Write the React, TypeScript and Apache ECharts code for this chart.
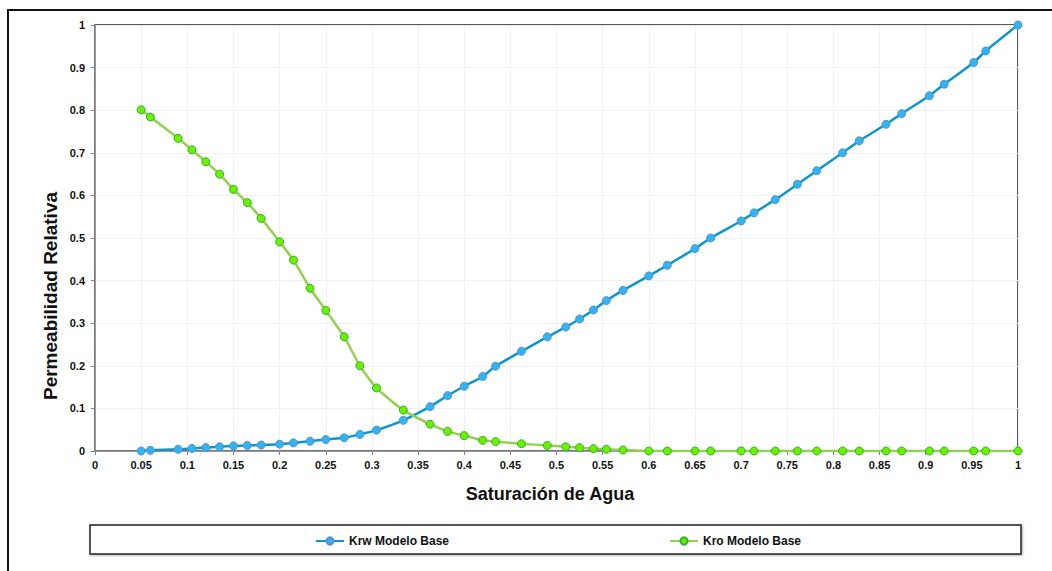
import React, { useEffect, useRef } from "react";
import * as echarts from "echarts";

const saturation = [0.05, 0.06, 0.09, 0.105, 0.12, 0.135, 0.15, 0.165, 0.18, 0.2, 0.215, 0.233, 0.25, 0.27, 0.287, 0.305, 0.334, 0.363, 0.382, 0.4, 0.42, 0.434, 0.462, 0.49, 0.51, 0.525, 0.54, 0.554, 0.572, 0.6, 0.62, 0.65, 0.667, 0.7, 0.714, 0.737, 0.761, 0.782, 0.81, 0.828, 0.857, 0.874, 0.904, 0.92, 0.952, 0.965, 1.0];
const krw = [0, 0.0016, 0.004, 0.006, 0.008, 0.01, 0.012, 0.013, 0.014, 0.016, 0.019, 0.023, 0.027, 0.031, 0.039, 0.049, 0.072, 0.104, 0.13, 0.152, 0.175, 0.199, 0.234, 0.268, 0.291, 0.31, 0.331, 0.353, 0.377, 0.411, 0.436, 0.475, 0.5, 0.54, 0.559, 0.59, 0.626, 0.658, 0.7, 0.728, 0.767, 0.792, 0.834, 0.861, 0.912, 0.939, 1.0];
const kro = [0.801, 0.784, 0.734, 0.707, 0.679, 0.65, 0.614, 0.583, 0.546, 0.491, 0.448, 0.382, 0.33, 0.268, 0.2, 0.148, 0.096, 0.063, 0.046, 0.036, 0.025, 0.022, 0.017, 0.013, 0.01, 0.008, 0.0055, 0.004, 0.0023, 0, 0, 0, 0, 0, 0, 0, 0, 0, 0, 0, 0, 0, 0, 0, 0, 0, 0];
const seriesNames = ["Krw Modelo Base", "Kro Modelo Base"];
const xTitle = "Saturación de Agua";
const yTitle = "Permeabilidad Relativa";

export default function App() {
  const ref = useRef<HTMLDivElement>(null);
  useEffect(() => {
    if (!ref.current) return;
    const chart = echarts.init(ref.current, undefined, { renderer: "svg" });
    const font = "'Liberation Sans', Arial, sans-serif";
    const pairs = (ys: number[]) => saturation.map((x, i) => [x, ys[i]]);
    chart.setOption({
      animation: false,
      backgroundColor: "#ffffff",
      textStyle: { fontFamily: font },
      grid: {
        left: 95,
        right: 34,
        top: 25,
        bottom: 120,
        show: true,
        borderColor: "#222",
        borderWidth: 1.5,
        containLabel: false,
      },
      graphic: [
        {
          type: "rect",
          shape: { x: 8, y: 10, width: 1200, height: 700 },
          style: { fill: "none", stroke: "#111", lineWidth: 2 },
          silent: true,
          z: -1,
        },
        {
          type: "rect",
          shape: { x: 90, y: 525, width: 931, height: 29 },
          style: {
            fill: "#fff",
            stroke: "#222",
            lineWidth: 1.5,
            shadowBlur: 2,
            shadowOffsetX: 1,
            shadowOffsetY: 1,
            shadowColor: "rgba(0,0,0,0.3)",
          },
          silent: true,
          z: -1,
        },
        {
          type: "text",
          x: 550,
          y: 494,
          style: {
            text: xTitle,
            fontFamily: font,
            fontWeight: "bold",
            fontSize: 18,
            fill: "#111",
            align: "center",
            verticalAlign: "middle",
          },
          silent: true,
        },
        {
          type: "text",
          x: 50,
          y: 296,
          rotation: Math.PI / 2,
          style: {
            text: yTitle,
            fontFamily: font,
            fontWeight: "bold",
            fontSize: 19,
            fill: "#111",
            align: "center",
            verticalAlign: "middle",
          },
          silent: true,
        },
      ],
      legend: {
        data: seriesNames,
        left: 315,
        top: 535,
        padding: 0,
        itemGap: 220,
        itemWidth: 28,
        itemHeight: 9,
        textStyle: { fontFamily: font, fontWeight: "bold", fontSize: 12, color: "#111" },
      },
      xAxis: {
        type: "value",
        min: 0,
        max: 1,
        interval: 0.05,
        axisLine: { lineStyle: { color: "#808080", width: 1.5 } },
        axisTick: { show: true, length: 4, lineStyle: { color: "#808080" } },
        axisLabel: { fontFamily: font, fontWeight: "bold", fontSize: 11, color: "#111", margin: 8 },
        splitLine: { show: true, lineStyle: { color: "#f0f0f0", width: 1 } },
      },
      yAxis: {
        type: "value",
        min: 0,
        max: 1,
        interval: 0.1,
        axisLine: { show: true, lineStyle: { color: "#808080", width: 1.5 } },
        axisTick: { show: true, length: 4, lineStyle: { color: "#808080" } },
        axisLabel: { fontFamily: font, fontWeight: "bold", fontSize: 11, color: "#111", margin: 10 },
        splitLine: { show: true, lineStyle: { color: "#f0f0f0", width: 1 } },
      },
      series: [
        {
          name: seriesNames[0],
          type: "line",
          data: pairs(krw),
          smooth: 0.2,
          symbol: "circle",
          symbolSize: 8,
          lineStyle: { color: "#0E96CC", width: 2.5 },
          itemStyle: { color: "#2FB5F2", borderColor: "#5A8ED0", borderWidth: 1 },
          z: 3,
        },
        {
          name: seriesNames[1],
          type: "line",
          data: pairs(kro),
          smooth: 0.2,
          symbol: "circle",
          symbolSize: 8,
          lineStyle: { color: "#92D050", width: 2.5 },
          itemStyle: { color: "#6CF000", borderColor: "#2DB42D", borderWidth: 1 },
          z: 4,
        },
      ],
    });
    return () => chart.dispose();
  }, []);
  return (
    <div
      ref={ref}
      style={{ position: "absolute", left: 0, top: 0, width: 1052, height: 571 }}
    />
  );
}
